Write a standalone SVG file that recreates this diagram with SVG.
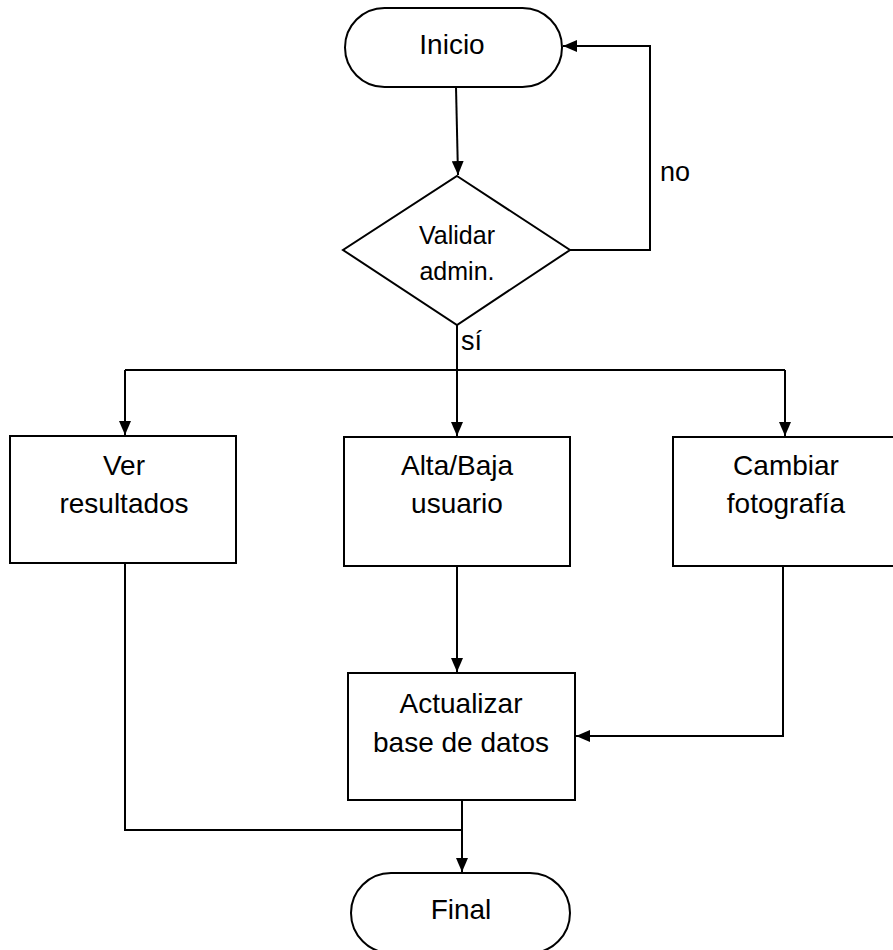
<svg xmlns="http://www.w3.org/2000/svg" width="893" height="950" viewBox="0 0 893 950">
<defs>
<marker id="ah" markerWidth="14" markerHeight="12" viewBox="0 0 14 12" refX="14" refY="6" orient="auto" markerUnits="userSpaceOnUse">
<path d="M0,0 L14,6 L0,12 Z" fill="#000"/>
</marker>
</defs>
<style>
.s{fill:#fff;stroke:#000;stroke-width:2}
.c{fill:none;stroke:#000;stroke-width:2}
.t{font-family:"Liberation Sans",Arial,sans-serif;font-size:28px;fill:#000;text-anchor:middle}
.d{font-family:"Liberation Sans",Arial,sans-serif;font-size:25px;fill:#000;text-anchor:middle}
.l{font-family:"Liberation Sans",Arial,sans-serif;font-size:27px;fill:#000}
</style>
<rect width="893" height="950" fill="#fff"/>
<g id="connectors">
<path class="c" d="M456,87 L458,175" marker-end="url(#ah)"/>
<path class="c" d="M570,250 L650,250 L650,46 L563,46" marker-end="url(#ah)"/>
<path class="c" d="M457,325 L457,370"/>
<path class="c" d="M125,370 L785,370"/>
<path class="c" d="M125,370 L125,435" marker-end="url(#ah)"/>
<path class="c" d="M457,370 L457,436" marker-end="url(#ah)"/>
<path class="c" d="M785,370 L785,436" marker-end="url(#ah)"/>
<path class="c" d="M457,566 L457,672" marker-end="url(#ah)"/>
<path class="c" d="M783,566 L783,736 L576,736" marker-end="url(#ah)"/>
<path class="c" d="M125,563 L125,830 L462,830"/>
<path class="c" d="M462,800 L462,872" marker-end="url(#ah)"/>
<text class="l" x="660" y="181">no</text>
<text class="l" x="461" y="350">sí</text>
</g>
<g id="inicio">
<rect class="s" x="345" y="8" width="217" height="79" rx="39.5" ry="39.5"/>
<text class="t" x="452" y="54">Inicio</text>
</g>
<g id="validar">
<polygon class="s" points="457,176 570,250 457,325 343,250"/>
<text class="d" x="457" y="244">Validar</text>
<text class="d" x="457" y="280">admin.</text>
</g>
<g id="ver">
<rect class="s" x="10" y="436" width="226" height="127"/>
<text class="t" x="124" y="475">Ver</text>
<text class="t" x="124" y="513">resultados</text>
</g>
<g id="alta">
<rect class="s" x="344" y="437" width="226" height="129"/>
<text class="t" x="457" y="475">Alta/Baja</text>
<text class="t" x="457" y="513">usuario</text>
</g>
<g id="cambiar">
<rect class="s" x="673" y="437" width="230" height="129"/>
<text class="t" x="786" y="475">Cambiar</text>
<text class="t" x="786" y="513">fotografía</text>
</g>
<g id="actualizar">
<rect class="s" x="348" y="673" width="227" height="127"/>
<text class="t" x="461" y="713">Actualizar</text>
<text class="t" x="461" y="752">base de datos</text>
</g>
<g id="final">
<rect class="s" x="351" y="873" width="219" height="80" rx="40" ry="40"/>
<text class="t" x="461" y="919">Final</text>
</g>
</svg>
